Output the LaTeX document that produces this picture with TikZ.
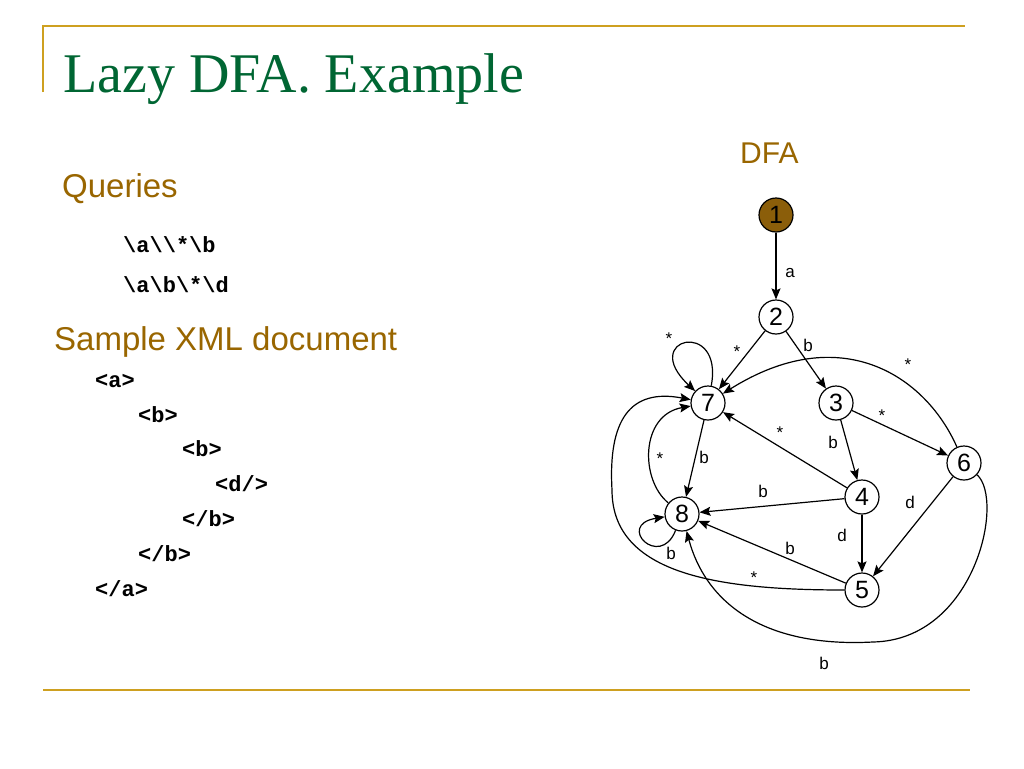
\documentclass[tikz,border=0pt]{standalone}
\usepackage{fontspec}
\setmainfont{Liberation Serif}
\setsansfont{Liberation Sans}
\setmonofont{Liberation Mono}
\usepackage{tikz}
\usetikzlibrary{arrows.meta}

\definecolor{titlegreen}{RGB}{0,102,51}
\definecolor{rulegold}{RGB}{206,160,32}
\definecolor{headbrown}{RGB}{153,102,0}
\definecolor{startbrown}{RGB}{139,94,10}

\begin{document}
\begin{tikzpicture}[x=1pt,y=-1pt,
  state/.style={draw,circle,minimum size=34pt,inner sep=0pt,line width=1.2pt,
    font=\sffamily\fontsize{25}{25}\selectfont},
  edge/.style={draw,line width=1.2pt,-{Stealth[length=11pt,width=9pt,inset=2pt]}},
  lbl/.style={inner sep=0pt,anchor=base,font=\sffamily\fontsize{17}{17}\selectfont},
  head/.style={inner sep=0pt,anchor=base west,text=headbrown,
    font=\sffamily\fontsize{33}{33}\selectfont},
  code/.style={inner sep=0pt,anchor=base west,
    font=\ttfamily\bfseries\fontsize{22}{22}\selectfont}]
\useasboundingbox (0,0) rectangle (1024,768);
\fill[white] (0,0) rectangle (1024,768);

% frame lines
\draw[rulegold,line width=2pt] (43,92) -- (43,26) -- (965,26);
\draw[rulegold,line width=2pt] (43,690) -- (970,690);

\node[inner sep=0pt,anchor=base west,text=titlegreen,
  font=\rmfamily\fontsize{56}{56}\selectfont] (title) at (63,92) {Lazy DFA. Example};

% left column
\node[head] (hq) at (62,197) {Queries};
\node[code] (q1) at (123,252) {\textbackslash a\textbackslash\textbackslash*\textbackslash b};
\node[code] (q2) at (123,292) {\textbackslash a\textbackslash b\textbackslash*\textbackslash d};

\node[head] (hx) at (54,350) {Sample XML document};
\node[code] (x1) at (95,387) {<a>};
\node[code] (x2) at (138,422) {<b>};
\node[code] (x3) at (182,456) {<b>};
\node[code] (x4) at (215,491) {<d/>};
\node[code] (x5) at (182,526) {</b>};
\node[code] (x6) at (138,561) {</b>};
\node[code] (x7) at (95,596) {</a>};

% automaton
\node[head,font=\sffamily\fontsize{30}{30}\selectfont] (hd) at (740,163) {DFA};

\node[state,fill=startbrown] (s1) at (776,215) {1};
\node[state] (s2) at (776,317) {2};
\node[state] (s3) at (836,403) {3};
\node[state] (s4) at (862,497) {4};
\node[state] (s5) at (862,590) {5};
\node[state] (s6) at (964,463) {6};
\node[state] (s7) at (708,403) {7};
\node[state] (s8) at (682,514) {8};

\path[edge] (s1) -- (s2);
\path[edge] (s2) -- (s7);
\path[edge] (s2) -- (s3);
\path[edge] (s3) -- (s6);
\path[edge] (s3) -- (s4);
\path[edge] (s4) -- (s7);
\path[edge] (s7) -- (s8);
\path[edge] (s4) -- (s8);
\path[edge] (s4) -- (s5);
\path[edge] (s6) -- (s5);
\path[edge] (s5) -- (s8);

\path[edge] (s7) .. controls (724,318) and (638,338) .. (s7);
\path[edge] (s8) .. controls (660,570) and (615,525) .. (s8);
\path[edge] (s6) .. controls (925,375) and (840,320) .. (s7);
\path[edge] (s8) .. controls (640,480) and (640,415) .. (s7);
\path[edge] (s5) .. controls (720,590) and (612,575) .. (612,490)
  .. controls (608,420) and (630,388) .. (s7);
\path[edge] (s6) .. controls (1005,500) and (975,640) .. (873,642)
  .. controls (760,648) and (705,600) .. (s8);

\node[lbl] (la12) at (790,277) {a};
\node[lbl] (la27) at (737,357) {*};
\node[lbl] (la23) at (808,351) {b};
\node[lbl] (la77) at (669,344) {*};
\node[lbl] (la67) at (908,370) {*};
\node[lbl] (la36) at (882,421) {*};
\node[lbl] (la34) at (833,448) {b};
\node[lbl] (la47) at (780,438) {*};
\node[lbl] (la78) at (704,463) {b};
\node[lbl] (la87) at (660,464) {*};
\node[lbl] (la48) at (763,497) {b};
\node[lbl] (la65) at (910,508) {d};
\node[lbl] (la45) at (842,541) {d};
\node[lbl] (la58) at (790,554) {b};
\node[lbl] (la88) at (671,559) {b};
\node[lbl] (la57) at (754,583) {*};
\node[lbl] (la68) at (824,669) {b};
\end{tikzpicture}
\end{document}
